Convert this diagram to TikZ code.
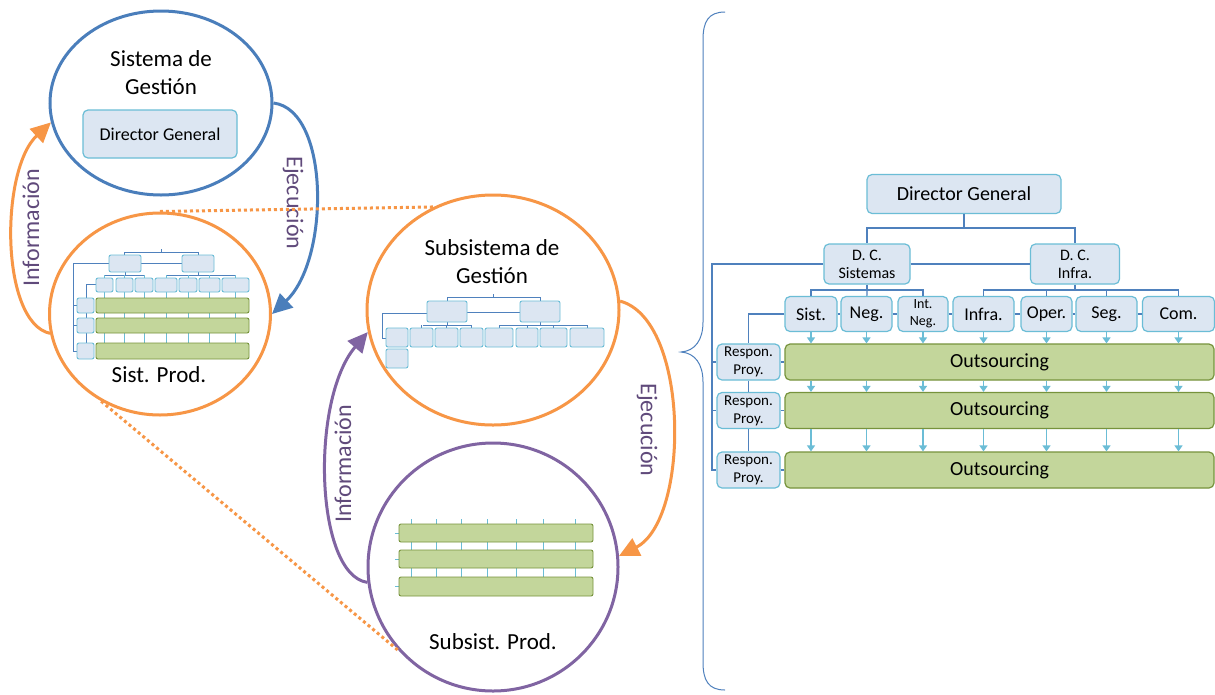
\documentclass[tikz,border=0pt]{standalone}
\usepackage{fontspec}
\setmainfont{Carlito}
\usepackage{tikz}
\usetikzlibrary{calc,arrows.meta,positioning,shapes.geometric}
\definecolor{boxfill}{HTML}{DCE6F2}
\definecolor{boxline}{HTML}{6BBDD6}
\definecolor{barfill}{HTML}{C3D69B}
\definecolor{barline}{HTML}{77933C}
\definecolor{linkc}{HTML}{4F81BD}
\definecolor{gesblue}{HTML}{4A7EBB}
\definecolor{prodor}{HTML}{F79646}
\definecolor{subpur}{HTML}{8064A2}
\definecolor{lblc}{HTML}{604A7B}
\tikzset{
  orgbox/.style={draw=boxline,fill=boxfill,line width=1.2pt,rounded corners=5pt,align=center,inner sep=0pt},
  unit/.style={orgbox,minimum height=35pt,font=\fontsize{18}{22}\selectfont},
  outbar/.style={draw=barline,fill=barfill,line width=1.2pt,rounded corners=5pt,inner sep=0pt},
  minibox/.style={draw=boxline,fill=boxfill,line width=0.9pt,rounded corners=2pt},
  minibar/.style={draw=barline,fill=barfill,line width=0.9pt,rounded corners=2pt},
  link/.style={linkc,line width=1.2pt},
  minilink/.style={linkc,line width=0.9pt},
  tick/.style={boxline,line width=0.9pt},
  downar/.style={-{Triangle[length=6pt,width=8pt]},boxline,line width=1.2pt},
  sysc/.style={ellipse,line width=3pt,inner sep=0pt},
  flow/.style={line width=3pt,-{Triangle[length=20pt,width=19pt]}},
  flowlbl/.style={lblc,font=\fontsize{24}{28}\selectfont},
  dotl/.style={prodor,line width=3pt,dash pattern=on 3pt off 3pt},
  big/.style={font=\fontsize{23}{28}\selectfont,align=center}
}
\begin{document}
\begin{tikzpicture}[x=1pt,y=-1pt]
\fill[white] (0,0) rectangle (1215,694);
\useasboundingbox (0,0) rectangle (1215,694);
\node[sysc,draw=gesblue,minimum width=222pt,minimum height=184pt] (sg) at (161,103) {};
\node[sysc,draw=prodor,minimum width=221pt,minimum height=202pt] (sp) at (160,314) {};
\node[sysc,draw=prodor,minimum width=252pt,minimum height=230pt] (ssg) at (493,310) {};
\node[sysc,draw=subpur,minimum width=250pt,minimum height=248pt] (ssp) at (493,567) {};
\node[big] (sgt) at (161,73) {Sistema de\\Gestión};
\node[orgbox,minimum width=154pt,minimum height=48pt,font=\fontsize{18}{22}\selectfont] (sgdg) at (160,134) {Director General};
\node[big] (spt) at (159,375) {Sist. Prod.};
\node[big] (ssgt) at (492,262) {Subsistema de\\Gestión};
\node[big] (sspt) at (493,642) {Subsist. Prod.};

\draw[minilink] (161,249) -- (161,252) (124,255) -- (124,252) -- (198,252) -- (198,255) (141,263) -- (182,263)
  (109,263) -- (73,263) -- (73,351) -- (77,351) (73,305) -- (77,305) (73,325) -- (77,325);
\draw[minilink] (125,272) -- (125,275) (105,275) -- (145,275) (198,272) -- (198,275) (166,275) -- (236,275);
\draw[minilink] (96,284) -- (86,284) -- (86,343);
\foreach \x in {104.5,124.5,144,166,188,209.5,235.5} \draw[tick] (\x,275) -- (\x,359);
\foreach \a/\b in {96/113,116/133,135/153,155/177,179/197,199/220,222/249} \draw[minibox] (\a,278) rectangle (\b,292);
\foreach \t/\b in {298/313,318/333,343/359} {\draw[minibox] (77,\t) rectangle (94,\b); \draw[minibar] (96,\t) rectangle (249,\b);}
\draw[minibox] (109,255) rectangle (141,272); \draw[minibox] (182,255) rectangle (214,272);

\draw[minilink] (493,294) -- (493,297) (447,301) -- (447,297) -- (540,297) -- (540,301) (467,312) -- (520,312)
  (427,313) -- (382,313) -- (382,338) -- (386,338) (447,322) -- (447,325) (423,325) -- (472,325) (540,322) -- (540,325) (499,325) -- (587,325);
\foreach \x in {421.5,446.5,471.5,499,527,553.5,587} \draw[minilink] (\x,325) -- (\x,328);
\draw[minibox] (427,301) rectangle (467,322); \draw[minibox] (520,301) rectangle (560,322);
\foreach \a/\b in {386/408,410/433,435/458,460/483,485/513,516/538,540/567,570/604} \draw[minibox] (\a,328) rectangle (\b,347);
\draw[minibox] (386,349) rectangle (408,368);

\foreach \x in {411,436,461,487,516,543,575} \draw[tick] (\x,519) -- (\x,577);
\foreach \t/\b in {524/542,550/568,577/596} {\draw[tick] (395,{(\t+\b)/2}) -- (399,{(\t+\b)/2}); \draw[minibar] (399,\t) rectangle (593,\b);}

\draw[flow,gesblue] (sg.east) .. controls (330,110) and (330,260) .. (sp.east);
\draw[flow,prodor] (sp.190) .. controls (0,322) and (0,170) .. (sg.190);
\draw[flow,prodor] (ssg.4) .. controls (690,320) and (690,520) .. (ssp.5);
\draw[flow,subpur] (ssp.187) .. controls (315,575) and (310,400) .. (ssg.190);
\node[flowlbl,rotate=90] (inf1) at (31,228) {Información};
\node[flowlbl,rotate=-90] (eje1) at (293,203) {Ejecución};
\node[flowlbl,rotate=-90] (eje2) at (647,430) {Ejecución};
\node[flowlbl,rotate=90] (inf2) at (343,464) {Información};
\draw[dotl] (sp.north) -- (ssg.120);
\draw[dotl] (sp.236) -- (ssp.222);

\draw[link,line width=1pt] (725,12) .. controls (708,12) and (703,22) .. (703,40) -- (703,322)
  .. controls (703,340) and (695,351) .. (681,352) .. controls (695,353) and (703,364) .. (703,382)
  -- (703,662) .. controls (703,680) and (708,690) .. (725,690);

\node[orgbox,minimum width=194pt,minimum height=39pt,font=\fontsize{20}{24}\selectfont] (dg) at (964,194) {Director General};
\node[orgbox,minimum width=86pt,minimum height=40pt,font=\fontsize{16}{18}\selectfont] (dcs) at (867,264) {D. C.\\Sistemas};
\node[orgbox,minimum width=89pt,minimum height=40pt,font=\fontsize{16}{18}\selectfont] (dci) at (1075,264) {D. C.\\Infra.};
\foreach \n/\x/\w/\t in {sist/811/52/Sist.,neg/866.5/51/Neg.,infra/983.5/61/Infra.,oper/1046.5/51/Oper.,seg/1106.5/61/Seg.,com/1178.5/72/Com.}
  \node[unit,minimum width=\w pt] (\n) at (\x,314) {\t};
\node[unit,minimum width=50pt,font=\fontsize{14}{17}\selectfont] (ineg) at (923,314) {Int.\\Neg.};
\foreach \i/\y in {1/362,2/410.5,3/470} {
  \node[orgbox,minimum width=63pt,minimum height=36pt,font=\fontsize{15}{18}\selectfont] (resp\i) at (748.5,\y) {Respon.\\Proy.};
  \node[outbar,minimum width=429pt,minimum height=36pt,font=\fontsize{20}{24}\selectfont] (out\i) at (999.5,\y) {Outsourcing};
  \draw[link] (resp\i) -- (out\i);
}
\coordinate (dgj) at (964,228);
\coordinate (dcsj) at (867,290);
\coordinate (dcij) at (1075,290);
\coordinate (lbus) at (712,470);
\draw[link] (dg) -- (dgj) -| (dcs); \draw[link] (dgj) -| (dci);
\draw[link] (dcs) -- (dci);
\draw[link] (dcs) -| (lbus) -- (resp3);
\draw[link] (lbus |- resp1) -- (resp1); \draw[link] (lbus |- resp2) -- (resp2);
\draw[link] (dcs) -- (dcsj) -| (sist); \draw[link] (dcsj) -| (ineg); \draw[link] (dcsj) -- (neg);
\draw[link] (dci) -- (dcij) -| (infra); \draw[link] (dcij) -| (com);
\draw[link] (oper |- dcij) -- (oper); \draw[link] (seg |- dcij) -- (seg);
\foreach \a/\b in {sist/neg,neg/ineg,ineg/infra,infra/oper,oper/seg,seg/com} \draw[link] (\a) -- (\b);
\draw[link] (sist) -| (resp1); \draw[link] (resp1) -- (resp2); \draw[link] (resp2) -- (resp3);
\foreach \n in {sist,neg,ineg,infra,oper,seg,com} {
  \draw[downar] (\n) -- (\n |- out1.north);
  \draw[downar] (\n |- out1.south) -- (\n |- out2.north);
  \draw[downar] (\n |- out2.south) -- (\n |- out3.north);
}
\end{tikzpicture}
\end{document}
